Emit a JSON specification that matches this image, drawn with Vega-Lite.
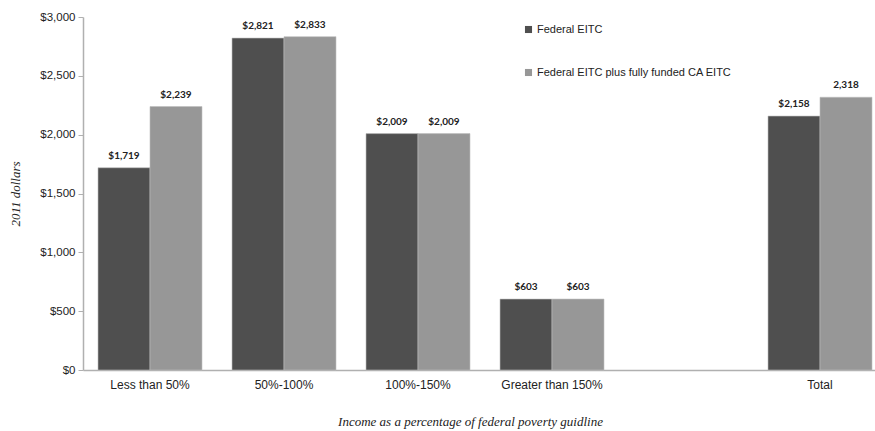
{
  "$schema": "https://vega.github.io/schema/vega-lite/v6.json",
  "autosize": {"type": "none"},
  "width": 792,
  "height": 353,
  "padding": {"left": 83, "top": 17, "right": 0, "bottom": 61},
  "background": "white",
  "config": {
    "view": {"stroke": null},
    "font": "Liberation Sans"
  },
  "data": {
    "values": [
      {"group": "Less than 50%", "series": "Federal EITC", "value": 1719, "label": "$1,719"},
      {"group": "Less than 50%", "series": "Federal EITC plus fully funded CA EITC", "value": 2239, "label": "$2,239"},
      {"group": "50%-100%", "series": "Federal EITC", "value": 2821, "label": "$2,821"},
      {"group": "50%-100%", "series": "Federal EITC plus fully funded CA EITC", "value": 2833, "label": "$2,833"},
      {"group": "100%-150%", "series": "Federal EITC", "value": 2009, "label": "$2,009"},
      {"group": "100%-150%", "series": "Federal EITC plus fully funded CA EITC", "value": 2009, "label": "$2,009"},
      {"group": "Greater than 150%", "series": "Federal EITC", "value": 603, "label": "$603"},
      {"group": "Greater than 150%", "series": "Federal EITC plus fully funded CA EITC", "value": 603, "label": "$603"},
      {"group": "Total", "series": "Federal EITC", "value": 2158, "label": "$2,158"},
      {"group": "Total", "series": "Federal EITC plus fully funded CA EITC", "value": 2318, "label": "2,318"}
    ]
  },
  "encoding": {
    "x": {
      "field": "group",
      "type": "nominal",
      "sort": null,
      "scale": {
        "domain": ["Less than 50%", "50%-100%", "100%-150%", "Greater than 150%", "", "Total"],
        "range": [0, 804],
        "paddingInner": 0.224,
        "paddingOuter": 0.112
      },
      "axis": {
        "title": "Income as a percentage of federal poverty guidline",
        "titleFont": "Liberation Serif",
        "titleFontStyle": "italic",
        "titleFontWeight": "normal",
        "titleFontSize": 13,
        "titleColor": "#222222",
        "titlePadding": 25,
        "titleX": 387,
        "labelAngle": 0,
        "labelFont": "Liberation Sans",
        "labelFontSize": 12,
        "labelColor": "#222222",
        "labelPadding": 9,
        "ticks": false,
        "domainColor": "#b0b0b0",
        "domainWidth": 1.5
      }
    },
    "xOffset": {
      "field": "series",
      "type": "nominal",
      "sort": ["Federal EITC", "Federal EITC plus fully funded CA EITC"],
      "scale": {"paddingInner": 0, "paddingOuter": 0}
    },
    "y": {
      "field": "value",
      "type": "quantitative",
      "scale": {"domain": [0, 3000], "nice": false},
      "axis": {
        "title": "2011 dollars",
        "titleFont": "Liberation Serif",
        "titleFontStyle": "italic",
        "titleFontWeight": "normal",
        "titleFontSize": 13,
        "titleColor": "#222222",
        "titlePadding": 17,
        "values": [0, 500, 1000, 1500, 2000, 2500, 3000],
        "format": "$,d",
        "labelFont": "Liberation Sans",
        "labelFontSize": 11.5,
        "labelColor": "#222222",
        "labelPadding": 3,
        "grid": false,
        "tickSize": 5,
        "tickColor": "#b0b0b0",
        "domainColor": "#b0b0b0",
        "domainWidth": 1.5
      }
    }
  },
  "layer": [
    {
      "mark": {"type": "bar", "stroke": "#bdbdbd", "strokeWidth": 0.6},
      "encoding": {
        "color": {
          "field": "series",
          "type": "nominal",
          "sort": ["Federal EITC", "Federal EITC plus fully funded CA EITC"],
          "scale": {"range": ["#4f4f4f", "#979797"]},
          "legend": {
            "title": null,
            "orient": "none",
            "legendX": 440,
            "legendY": 7,
            "direction": "vertical",
            "symbolType": "square",
            "symbolSize": 50,
            "symbolStrokeWidth": 0,
            "labelFont": "Liberation Sans",
            "labelFontSize": 11,
            "labelColor": "#222222",
            "labelOffset": 3,
            "rowPadding": 31,
            "labelLimit": 400
          }
        }
      }
    },
    {
      "mark": {
        "type": "text",
        "baseline": "bottom",
        "dy": -7,
        "font": "Lato",
        "fontWeight": "bold",
        "fontSize": 10,
        "color": "#222222"
      },
      "encoding": {
        "text": {"field": "label"}
      }
    }
  ]
}
